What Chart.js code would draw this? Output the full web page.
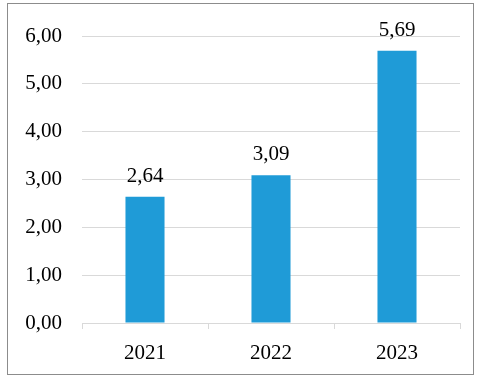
<!DOCTYPE html>
<html lang="en">
<head>
    <meta charset="UTF-8">
    <title>Bar Chart 2021-2023</title>
    <script src="https://cdn.jsdelivr.net/npm/chart.js"></script>
    <style>
        body {
            margin: 0;
            padding: 0;
            background: #ffffff;
        }
        #wrap {
            width: 479px;
            height: 379px;
        }
    </style>
</head>
<body>
    <div id="wrap"><canvas id="bar-chart" width="479" height="379"></canvas></div>

    <script>
        const years = ["2021", "2022", "2023"];
        const values = [2.64, 3.09, 5.69];
        const yTicks = [0, 1, 2, 3, 4, 5, 6];

        const fontFamily = "'Liberation Serif', 'Times New Roman', serif";
        const fmt = v => v.toFixed(2).replace(".", ",");

        // outer frame around the whole picture
        const framePlugin = {
            id: "frame",
            afterDraw(chart) {
                const ctx = chart.ctx;
                ctx.save();
                ctx.strokeStyle = "#8c8c8c";
                ctx.lineWidth = 1;
                ctx.strokeRect(7.5, 3.5, 466, 371);
                ctx.restore();
            }
        };

        // value labels on top of bars
        const labelPlugin = {
            id: "barLabels",
            afterDatasetsDraw(chart) {
                const ctx = chart.ctx;
                const meta = chart.getDatasetMeta(0);
                ctx.save();
                ctx.font = "21px " + fontFamily;
                ctx.fillStyle = "#000000";
                ctx.textAlign = "center";
                ctx.textBaseline = "alphabetic";
                meta.data.forEach((bar, i) => {
                    ctx.fillText(fmt(values[i]), bar.x, bar.y - 15);
                });
                ctx.restore();
            }
        };

        const ctx = document.getElementById("bar-chart").getContext("2d");
        new Chart(ctx, {
            type: "bar",
            data: {
                labels: years,
                datasets: [{
                    data: values,
                    backgroundColor: "#1f9bd7",
                    barPercentage: 0.62,
                    categoryPercentage: 0.5
                }]
            },
            options: {
                responsive: false,
                animation: false,
                layout: {
                    padding: { left: 0, top: 36, right: 19, bottom: 0 }
                },
                plugins: {
                    legend: { display: false },
                    tooltip: { enabled: false }
                },
                scales: {
                    x: {
                        grid: {
                            drawOnChartArea: false,
                            drawTicks: true,
                            tickLength: 6,
                            color: "#d9d9d9"
                        },
                        border: { color: "#d9d9d9" },
                        ticks: {
                            color: "#000000",
                            padding: 12,
                            font: { family: fontFamily, size: 21 }
                        },
                        afterFit(scale) { scale.height = 56; }
                    },
                    y: {
                        min: 0,
                        max: 6,
                        afterBuildTicks(scale) {
                            scale.ticks = yTicks.map(v => ({ value: v }));
                        },
                        grid: {
                            drawTicks: false,
                            color: "#d9d9d9"
                        },
                        border: { display: false },
                        ticks: {
                            color: "#000000",
                            padding: 20,
                            font: { family: fontFamily, size: 21 },
                            callback: v => fmt(v)
                        },
                        afterFit(scale) { scale.width = 82; }
                    }
                }
            },
            plugins: [framePlugin, labelPlugin]
        });
    </script>
</body>
</html>
